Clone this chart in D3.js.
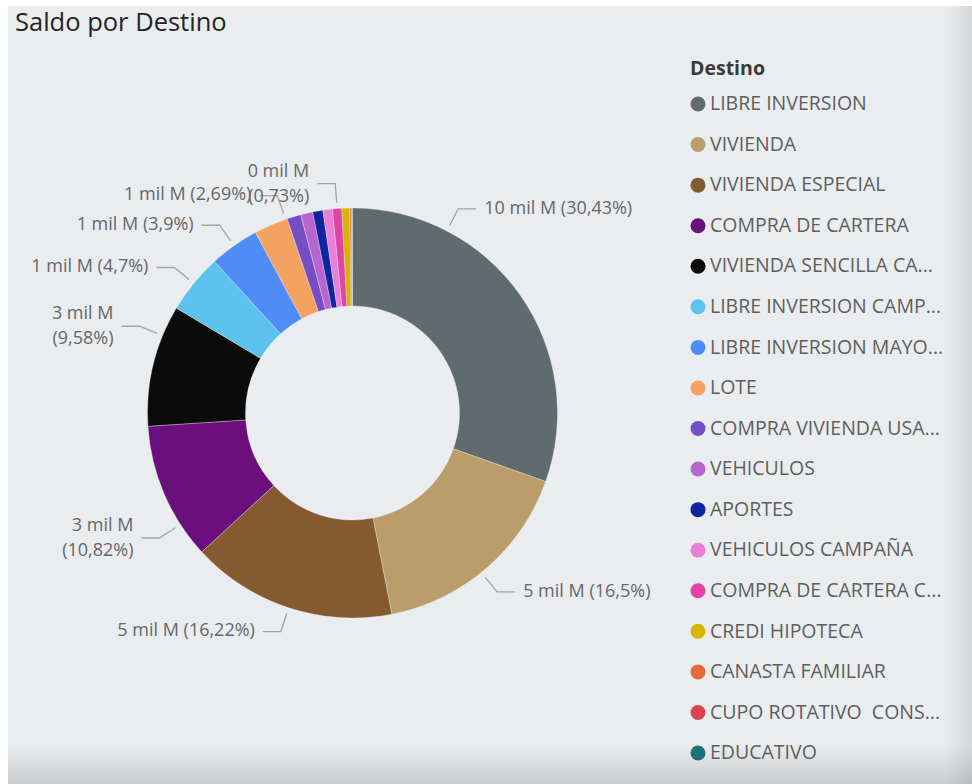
<!DOCTYPE html>
<html>
<head>
<meta charset="utf-8">
<script src="https://cdn.jsdelivr.net/npm/d3@7"></script>
<style>
  body { margin: 0; background: #ffffff; }
  svg { display: block; font-family: "Segoe UI", "Open Sans", sans-serif; }
  svg text { white-space: pre; }
</style>
</head>
<body>
<div id="chart"></div>
<script>
/* DATOS */
const destinos = [
  "LIBRE INVERSION", "VIVIENDA", "VIVIENDA ESPECIAL", "COMPRA DE CARTERA",
  "VIVIENDA SENCILLA CA...", "LIBRE INVERSION CAMP...", "LIBRE INVERSION MAYO...",
  "LOTE", "COMPRA VIVIENDA USA...", "VEHICULOS", "APORTES", "VEHICULOS CAMPAÑA",
  "COMPRA DE CARTERA C...", "CREDI HIPOTECA", "CANASTA FAMILIAR",
  "CUPO ROTATIVO  CONS...", "EDUCATIVO"
];
// saldo en mil millones (mil M)
const saldos = [
  9.585, 5.1975, 5.1093, 3.4083, 3.0177, 1.4805, 1.2285, 0.8474,
  0.3465, 0.2993, 0.252, 0.2363, 0.23, 0.1953, 0.0378, 0.0189, 0.0095
];
const colores = [
  "#5f6b6d", "#bb9d6b", "#845a2e", "#6a0f7b", "#0b0b0b", "#5bc3ee", "#4f8cf5",
  "#f4a261", "#744ec2", "#b766cf", "#12239e", "#ea7fd8", "#e044a7", "#d9b300",
  "#e66c37", "#d64550", "#197278"
];
// destinos con etiqueta de datos visible
const etiquetados = [
  "LIBRE INVERSION", "VIVIENDA", "VIVIENDA ESPECIAL", "COMPRA DE CARTERA",
  "VIVIENDA SENCILLA CA...", "LIBRE INVERSION CAMP...", "LIBRE INVERSION MAYO...",
  "LOTE", "COMPRA DE CARTERA C..."
];
const dosLineas = ["COMPRA DE CARTERA", "VIVIENDA SENCILLA CA...", "COMPRA DE CARTERA C..."];

/* LAYOUT */
const width = 972, height = 784;
const cx = 352.5, cy = 413, R = 205, r = 107;
// punto del sector (0..1) donde se ancla la linea guia
const anclaEtiqueta = {
  "LIBRE INVERSION": 0.25,
  "VIVIENDA": 0.53,
  "COMPRA DE CARTERA": 0.25,
  "VIVIENDA SENCILLA CA...": 0.75,
  "LOTE": 0.95
};

const datos = destinos.map((d, i) => ({ destino: d, saldo: saldos[i], color: colores[i] }));
const total = d3.sum(saldos);

const svg = d3.select("#chart").append("svg")
  .attr("width", width)
  .attr("height", height);

const defs = svg.append("defs");
const gradR = defs.append("linearGradient").attr("id", "sombraDer");
gradR.append("stop").attr("offset", "0%").attr("stop-color", "#000").attr("stop-opacity", 0);
gradR.append("stop").attr("offset", "100%").attr("stop-color", "#000").attr("stop-opacity", 0.09);
const gradB = defs.append("linearGradient").attr("id", "sombraInf")
  .attr("x1", 0).attr("y1", 0).attr("x2", 0).attr("y2", 1);
gradB.append("stop").attr("offset", "0%").attr("stop-color", "#000").attr("stop-opacity", 0);
gradB.append("stop").attr("offset", "100%").attr("stop-color", "#000").attr("stop-opacity", 0.14);

// fondo del visual
svg.append("rect").attr("x", 8).attr("y", 6).attr("width", width - 8).attr("height", height - 6)
  .attr("fill", "#eaedef");
svg.append("rect").attr("x", 945).attr("y", 6).attr("width", 27).attr("height", height - 6)
  .attr("fill", "url(#sombraDer)");
svg.append("rect").attr("x", 8).attr("y", 745).attr("width", width - 8).attr("height", 39)
  .attr("fill", "url(#sombraInf)");

// titulo
svg.append("text")
  .attr("x", 15).attr("y", 31)
  .attr("font-size", 25.5)
  .attr("font-weight", 500)
  .attr("fill", "#252423")
  .text("Saldo por Destino");

/* DONA */
const pie = d3.pie().sort(null).value(d => d.saldo).startAngle(0).endAngle(2 * Math.PI);
const arc = d3.arc().innerRadius(r).outerRadius(R);
const arcos = pie(datos);

const g = svg.append("g").attr("transform", `translate(${cx},${cy})`);

g.selectAll("path.sector")
  .data(arcos)
  .join("path")
  .attr("class", "sector")
  .attr("d", arc)
  .attr("fill", d => d.data.color)
  .attr("stroke", "rgba(234,237,239,0.6)")
  .attr("stroke-width", 0.6);

/* ETIQUETAS */
const fmtPct = v => (Math.round(v * 100) / 100).toString().replace(".", ",");
const polar = (a, rad) => [Math.sin(a) * rad, -Math.cos(a) * rad];

const conEtiqueta = arcos.filter(d => etiquetados.includes(d.data.destino));

const etq = g.selectAll("g.etq")
  .data(conEtiqueta)
  .join("g")
  .attr("class", "etq");

etq.each(function (d) {
  const f = anclaEtiqueta[d.data.destino] ?? 0.5;
  const a = d.startAngle + f * (d.endAngle - d.startAngle);
  const lado = Math.sin(a) >= 0 ? 1 : -1;
  const p0 = polar(a, R + 6);
  const p1 = polar(a, R + 25);
  const p2 = [p1[0] + lado * 18, p1[1]];
  const sel = d3.select(this);

  sel.append("polyline")
    .attr("points", [p0, p1, p2].map(p => p.join(",")).join(" "))
    .attr("fill", "none")
    .attr("stroke", "#a3a3a3")
    .attr("stroke-width", 1.3);

  const valor = `${Math.round(d.data.saldo)} mil M`;
  const pct = `(${fmtPct(d.data.saldo / total * 100)}%)`;
  const t = sel.append("text")
    .attr("x", p2[0] + lado * 8)
    .attr("y", p2[1])
    .attr("text-anchor", lado > 0 ? "start" : "end")
    .attr("dominant-baseline", "middle")
    .attr("font-size", 18)
    .attr("fill", "#66676a");

  if (dosLineas.includes(d.data.destino)) {
    t.append("tspan").attr("x", p2[0] + lado * 8).attr("y", p2[1] - 12).text(valor);
    t.append("tspan").attr("x", p2[0] + lado * 8).attr("y", p2[1] + 13).text(pct);
  } else {
    t.text(`${valor} ${pct}`);
  }
});

/* LEYENDA */
const leyenda = svg.append("g").attr("transform", "translate(690,0)");
leyenda.append("text")
  .attr("x", 0).attr("y", 70)
  .attr("dominant-baseline", "middle")
  .attr("font-size", 19.5)
  .attr("font-weight", 700)
  .attr("fill", "#3b3a39")
  .text("Destino");

const yLey = d3.scalePoint().domain(destinos).range([104, 753]);

const item = leyenda.selectAll("g.item")
  .data(datos)
  .join("g")
  .attr("class", "item")
  .attr("transform", d => `translate(0,${yLey(d.destino)})`);

item.append("circle")
  .attr("cx", 8).attr("cy", 0).attr("r", 7.5)
  .attr("fill", d => d.color);

item.append("text")
  .attr("x", 20).attr("y", 1)
  .attr("dominant-baseline", "middle")
  .attr("font-size", 19.5)
  .attr("fill", "#605e5c")
  .text(d => d.destino);
</script>
</body>
</html>
